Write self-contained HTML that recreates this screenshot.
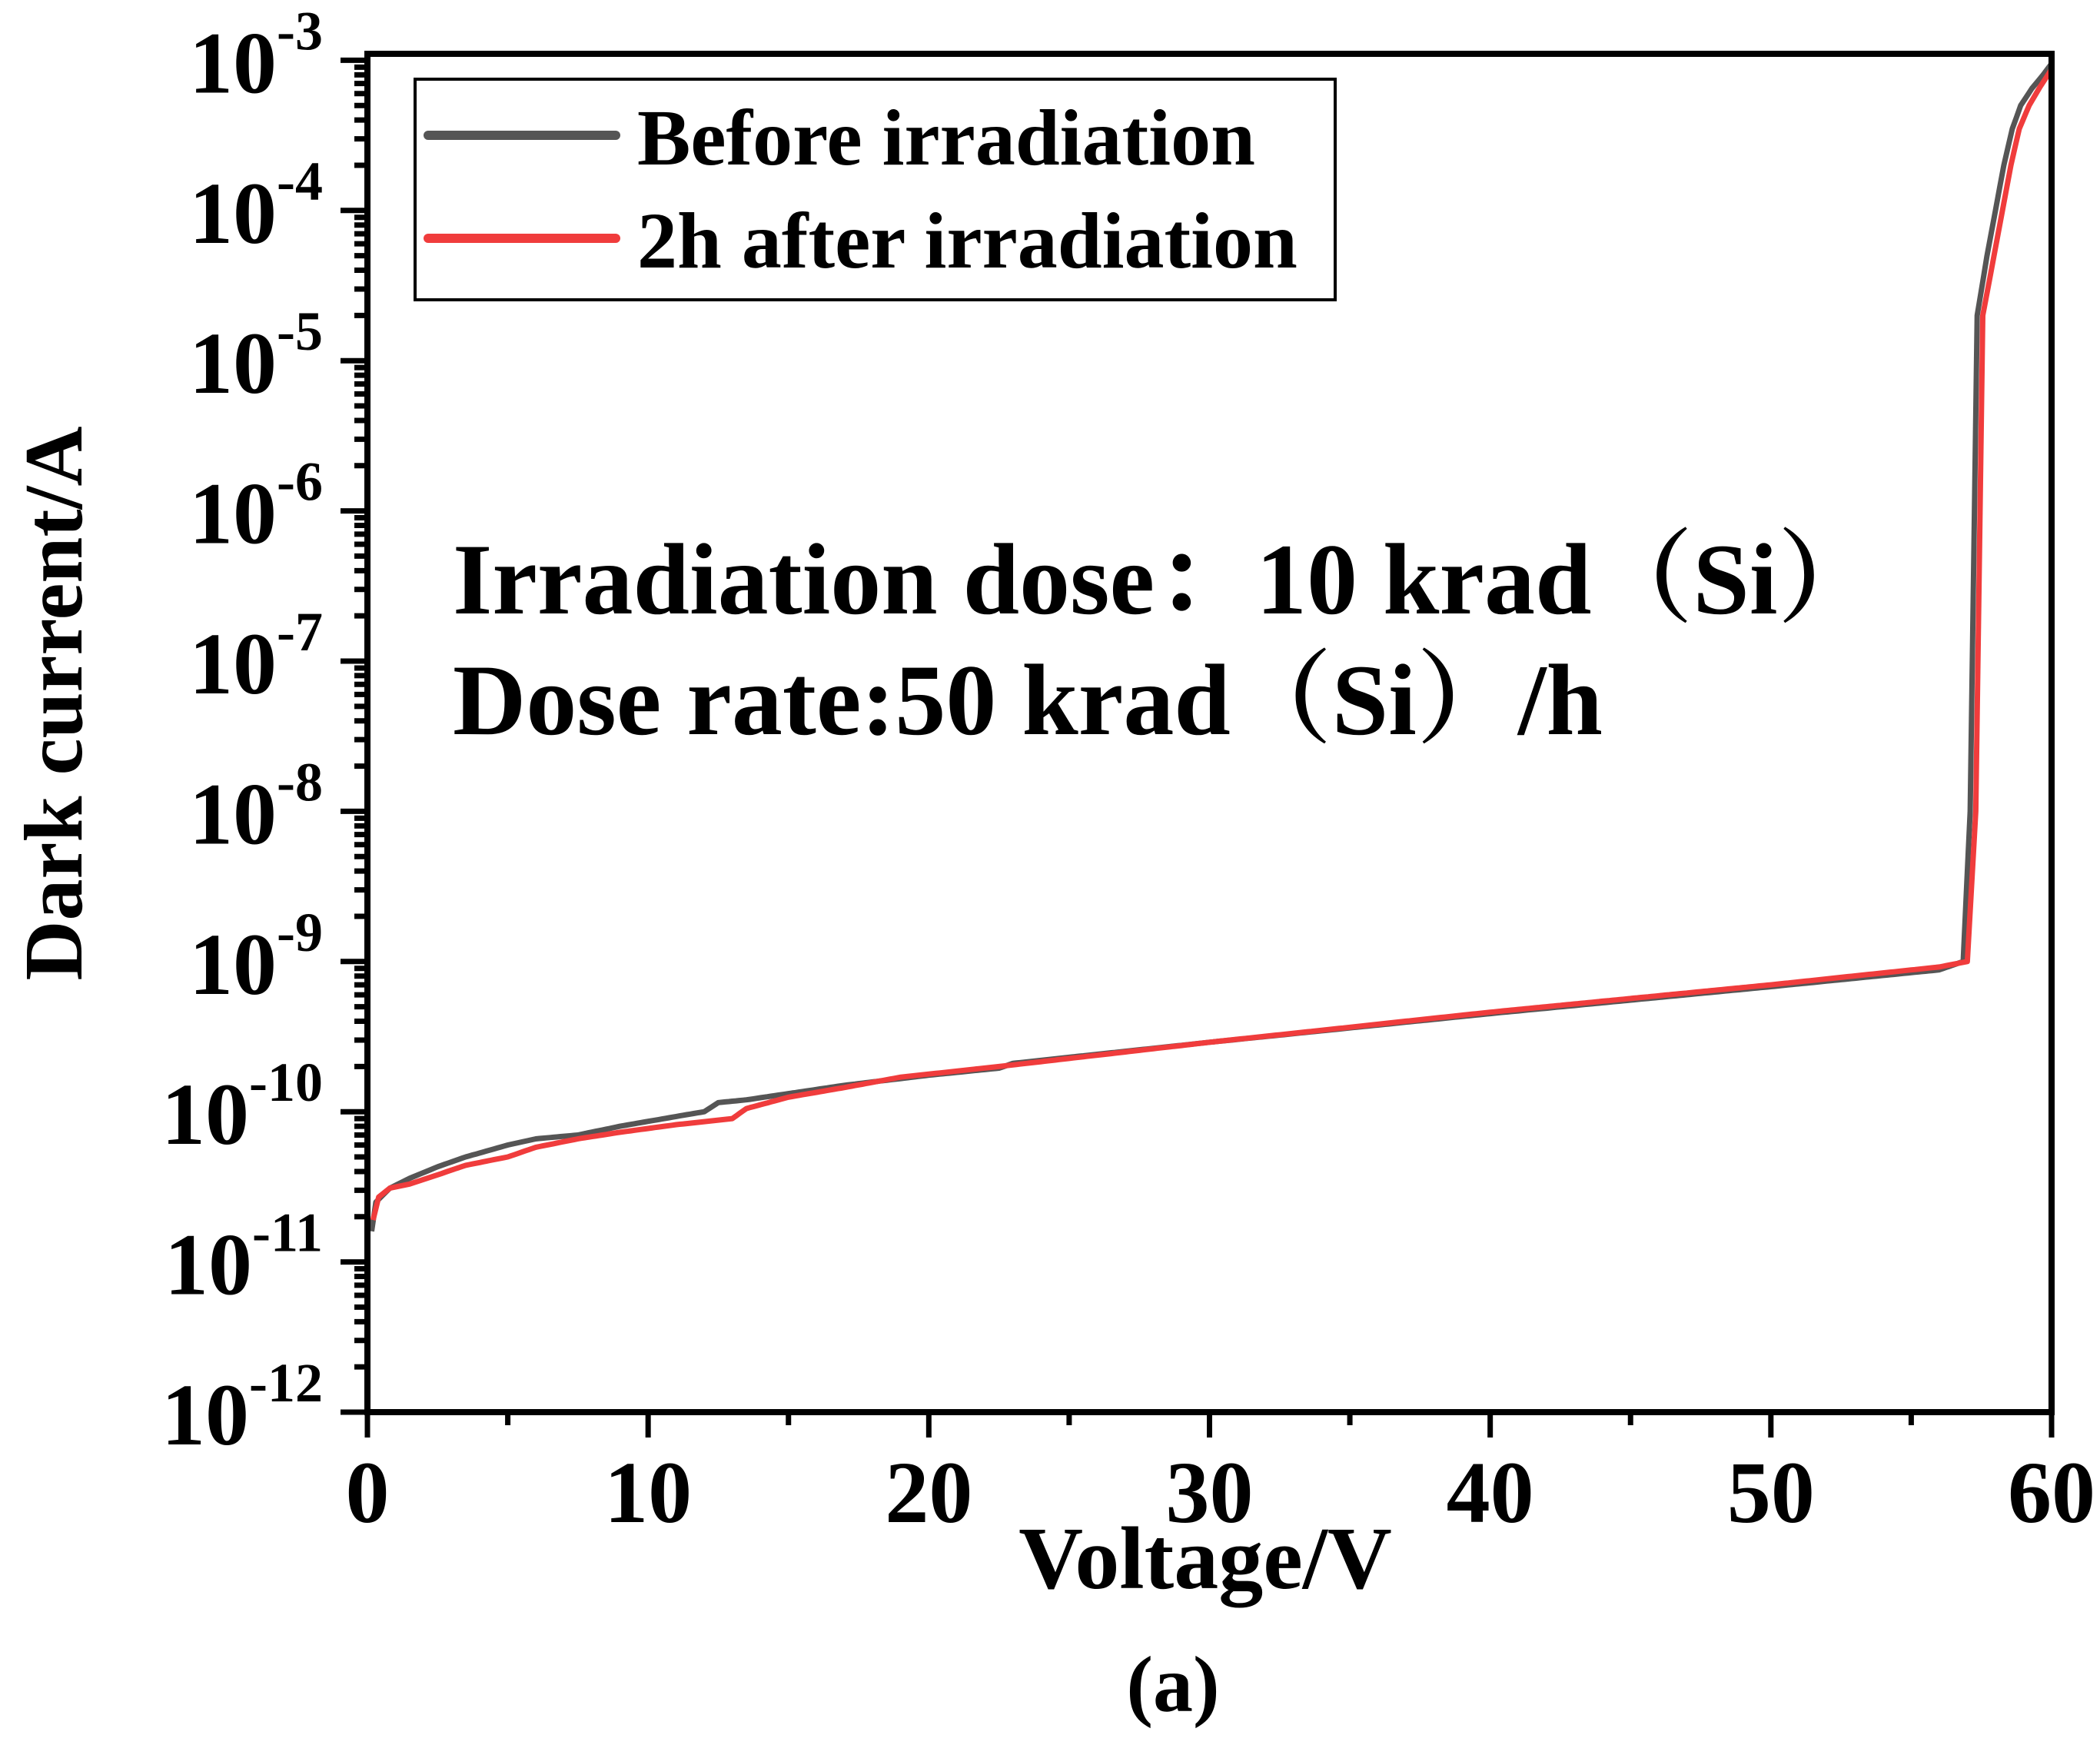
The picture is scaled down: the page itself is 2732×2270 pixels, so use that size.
<!DOCTYPE html>
<html><head><meta charset="utf-8"><style>
html,body{margin:0;padding:0;background:#fff}
svg{display:block;font-family:"Liberation Serif","Noto Serif CJK SC",serif;font-weight:bold}
</style></head><body>
<svg id="s" width="2732" height="2270" viewBox="0 0 2732 2270" xmlns="http://www.w3.org/2000/svg">
<g id="ticks" stroke="#000" stroke-width="7"></g>
<g id="ylab" font-size="114" text-anchor="end"></g>
<g id="xlab" font-size="114" text-anchor="middle"></g>
<path id="pb" fill="none" stroke="#555555" stroke-width="7" stroke-linejoin="round"/>
<path id="pr" fill="none" stroke="#f03c3c" stroke-width="7" stroke-linejoin="round"/>
<rect x="478" y="70" width="2191" height="1767" fill="none" stroke="#000" stroke-width="8"/>
<rect x="540" y="103" width="1197" height="287" fill="none" stroke="#000" stroke-width="4"/>
<line x1="557" y1="176" x2="801" y2="176" stroke="#555555" stroke-width="12" stroke-linecap="round"/>
<line x1="557" y1="310" x2="801" y2="310" stroke="#f03c3c" stroke-width="12" stroke-linecap="round"/>
<text x="829" y="214" font-size="104">Before irradiation</text>
<text x="829" y="348" font-size="104">2h after irradiation</text>
<text x="589" y="798" font-size="132">Irradiation dose：10 krad（Si）</text>
<text x="589" y="955" font-size="132">Dose rate:50 krad（Si）/h</text>
<text x="1568" y="2066" font-size="116" text-anchor="middle">Voltage/V</text>
<text x="1526" y="2226" font-size="104" text-anchor="middle">(a)</text>
<text transform="translate(106,915) rotate(-90)" font-size="108" text-anchor="middle">Dark current/A</text>
</svg>
<script>
var X0=478,XS=2191/60,YB=1837,DS=195.4;
function px(v){return X0+v*XS}
function py(I){return YB-(Math.log10(I)+12)*DS}
var t=document.getElementById('ticks'),yl=document.getElementById('ylab'),xl=document.getElementById('xlab');
var h='';
for(var e=-12;e<=-3;e++){
 var y=YB-(e+12)*DS;
 h+='<line x1="443" y1="'+y+'" x2="478" y2="'+y+'"/>';
 if(e<-3)for(var m=2;m<=9;m++){var yy=y-Math.log10(m)*DS;h+='<line x1="461" y1="'+yy+'" x2="478" y2="'+yy+'"/>';}
}
for(var v=0;v<=60;v+=5){var x=px(v);h+='<line x1="'+x+'" y1="1837" x2="'+x+'" y2="'+(v%10==0?1870:1854)+'"/>';}
t.innerHTML=h;
var s='';
for(var e=-12;e<=-3;e++){
 var y=YB-(e+12)*DS;
 s+='<text x="420" y="'+(y+42)+'">10<tspan font-size="72" dy="-56">'+e+'</tspan></text>';
}
yl.innerHTML=s;
s='';for(var v=0;v<=60;v+=10)s+='<text x="'+px(v)+'" y="1980">'+v+'</text>';xl.innerHTML=s;
function path(pts){
 var d='';
 for(var i=0;i<pts.length-1;i++){
  var a=pts[i],b=pts[i+1],n=Math.max(1,Math.round((b[0]-a[0])*8));
  for(var k=0;k<n;k++){var f=k/n,v=a[0]+(b[0]-a[0])*f,l=Math.log10(a[1])+(Math.log10(b[1])-Math.log10(a[1]))*f;
   d+=(d?'L':'M')+px(v).toFixed(1)+' '+(YB-(l+12)*DS).toFixed(1);}
 }
 var z=pts[pts.length-1];d+='L'+px(z[0]).toFixed(1)+' '+py(z[1]).toFixed(1);
 return d;
}
var B=[[0.15,1.6e-11],[0.3,2.5e-11],[0.8,3.1e-11],[1.5,3.6e-11],[2.5,4.3e-11],[3.5,5e-11],[5,6e-11],[6,6.6e-11],[7.5,7e-11],[9,8e-11],[11,9.3e-11],[12,1e-10],[12.5,1.15e-10],[13.5,1.2e-10],[17,1.5e-10],[20,1.75e-10],[22.5,1.95e-10],[23,2.1e-10],[30,2.9e-10],[40,4.5e-10],[50,6.8e-10],[56,8.8e-10],[56.85,1e-9],[57.1,1e-8],[57.35,2e-5],[57.7,5e-5],[58.0,1e-4],[58.3,2e-4],[58.6,3.5e-4],[58.9,5e-4],[59.3,6.5e-4],[59.7,8e-4],[60,9.5e-4]];
var R=[[0.2,1.9e-11],[0.4,2.7e-11],[0.8,3.1e-11],[1.5,3.3e-11],[2.5,3.8e-11],[3.5,4.4e-11],[5,5e-11],[6,5.8e-11],[7.5,6.6e-11],[9,7.3e-11],[11,8.2e-11],[13,9e-11],[13.5,1.05e-10],[15,1.25e-10],[17,1.45e-10],[19,1.7e-10],[22.5,2e-10],[30,2.9e-10],[40,4.6e-10],[50,7e-10],[56,9.2e-10],[57.0,1e-9],[57.3,1e-8],[57.55,2e-5],[57.95,5e-5],[58.25,1e-4],[58.55,2e-4],[58.85,3.5e-4],[59.2,5e-4],[59.6,6.7e-4],[60,8.7e-4]];
document.getElementById('pb').setAttribute('d',path(B));
document.getElementById('pr').setAttribute('d',path(R));
</script>
</body></html>
